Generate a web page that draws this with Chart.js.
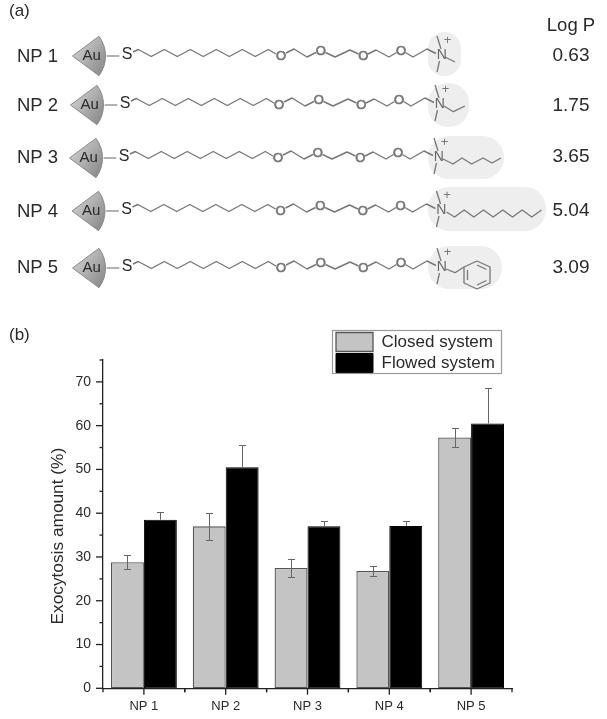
<!DOCTYPE html>
<html><head><meta charset="utf-8">
<style>html,body{margin:0;padding:0;background:#fff}#wrap{width:607px;height:719px;position:relative}canvas{display:block}</style>
<script src="https://cdn.jsdelivr.net/npm/chart.js@4"></script>
</head><body><div id="wrap"><canvas id="c" width="607" height="719"></canvas></div>
<script>
const categories = ['NP 1','NP 2','NP 3','NP 4','NP 5'];
const closedValues = [28.8, 37.0, 27.5, 26.8, 57.3];
const closedErrors = [1.65, 3.1, 2.0, 1.2, 2.2];
const flowedValues = [38.5, 50.5, 37.0, 37.1, 60.5];
const flowedErrors = [1.7, 5.1, 1.15, 1.1, 8.0];
const logP = ['0.63','1.75','3.65','5.04','3.09'];
const yTickStep = 5;
const FONT = '"Liberation Sans", Arial, sans-serif';
const INK = '#2a2a2a', BOND = '#777';

// schematic of the ligands in panel (a)
const rowShift = [[0,0],[-2,49],[-3,102],[-0.5,155],[0,212]];
const rowLabelY = [57,106,158,212,268];
const logPY = [56,106,157,211,268];
const blobs = [[428,461,32,76,16],[428,469,83,127,20],[428,504,136,179,21],[428,546,187,231,21],[428,502,246,289,21]];
const tails = [
  [[445,57],[455,62]],
  [[446,57],[455.3,62.7],[467,57]],
  [[446,57],[456,62],[465,56],[474.7,62],[486,56],[495,61],[504,56]],
  [[447,57],[455,62],[464.7,55],[474.3,62],[484,55],[493.7,62],[503.3,55],[513,62],[522.7,55],[532.3,62],[542,55]],
  [[446,57],[455,60.7],[464,55]]
];
const ring = [[477,49],[490,55],[490,71],[477,77],[464,71],[464,55]];

function poly(ctx, pts){ctx.beginPath();pts.forEach((p,i)=>i?ctx.lineTo(p[0],p[1]):ctx.moveTo(p[0],p[1]));ctx.stroke();}
function txt(ctx,s,x,y,size,color,align){ctx.font=size+'px '+FONT;ctx.fillStyle=color;ctx.textAlign=align||'center';ctx.textBaseline='middle';ctx.fillText(s,x,y);}

function drawDiagram(ctx){
  ctx.save();
  txt(ctx,'(a)',9,11,17,INK,'left');
  txt(ctx,'(b)',9,335,17,INK,'left');
  txt(ctx,'Log P',571,26,18.5,INK);
  categories.forEach((name,r)=>{
    const b=blobs[r];
    ctx.fillStyle='#eeeeee';ctx.beginPath();ctx.roundRect(b[0],b[2],b[1]-b[0],b[3]-b[2],b[4]);ctx.fill();
    txt(ctx,name,17,rowLabelY[r],18.5,INK,'left');
    txt(ctx,logP[r],571,logPY[r],19,INK);
    ctx.save();ctx.translate(rowShift[r][0],rowShift[r][1]);
    // gold core
    const g=ctx.createLinearGradient(72,46,106,68);g.addColorStop(0,'#d2d2d2');g.addColorStop(1,'#8a8a8a');
    ctx.fillStyle=g;ctx.strokeStyle='#8a8a8a';ctx.lineWidth=1;
    ctx.beginPath();ctx.moveTo(72.5,56);ctx.arc(72.5,56,33,-0.64,0.64);ctx.closePath();ctx.fill();ctx.stroke();
    txt(ctx,'Au',91.7,56,15,INK);
    ctx.strokeStyle='#666';ctx.lineWidth=1;poly(ctx,[[106.7,56],[119.3,56]]);
    txt(ctx,'S',127,55,16,INK);
    // alkyl and glycol chain
    ctx.strokeStyle=BOND;ctx.lineWidth=1.4;ctx.lineJoin='round';
    const chain=[[133,52]];
    for(let i=0;i<=10;i++)chain.push([138.3+13*i,i%2?56.5:49.5]);
    chain.push([276,54]);
    poly(ctx,chain);
    poly(ctx,[[286,53],[294,49],[307,57],[316,52.5]]);
    poly(ctx,[[325.5,52.5],[335,57],[350,50],[358.5,54]]);
    poly(ctx,[[368,54],[376,50],[389,57],[396.5,52.5]]);
    poly(ctx,[[405.5,52.5],[413,57],[427,49],[436,53.5]]);
    [[281,56],[320.7,50.7],[363.3,56],[401,50.7]].forEach(o=>{
      ctx.font='13px '+FONT;ctx.fillStyle=BOND;ctx.textAlign='center';ctx.textBaseline='middle';
      ctx.fillText('O',o[0],o[1]+0.5);ctx.lineWidth=0.7;ctx.strokeStyle=BOND;ctx.strokeText('O',o[0],o[1]+0.5);
    });
    ctx.lineWidth=1.3;
    txt(ctx,'N',441.7,55.5,14,'#666');
    txt(ctx,'+',447.5,40.5,13,'#777');
    poly(ctx,[[441,49],[437,36]]);
    poly(ctx,[[439.5,61],[437,72]]);
    poly(ctx,tails[r]);
    if(r===4){
      poly(ctx,ring.concat([ring[0]]));
      poly(ctx,[[477,53],[486.5,57.5]]);
      poly(ctx,[[486.5,68.5],[477,73]]);
      poly(ctx,[[467.5,68],[467.5,58]]);
    }
    ctx.restore();
  });
  ctx.restore();
}

const extras = {
  id:'extras',
  beforeDraw(chart){drawDiagram(chart.ctx);},
  afterLayout(chart){
    const lg=chart.legend;
    lg.left=334;lg.right=500;lg.top=330.5;lg.bottom=400;lg.width=166;lg.height=69.5;
    const y=chart.scales.y;
    if(!y._shifted){
      y._shifted=true;const orig=y.drawTitle.bind(y);
      y.drawTitle=function(){const c=chart.ctx;c.save();c.translate(0,12);orig();c.restore();};
    }
  },
  afterDatasetsDraw(chart){
    const ctx=chart.ctx,ys=chart.scales.y,xs=chart.scales.x;
    ctx.save();
    // error bars
    ctx.strokeStyle='#666';ctx.lineWidth=1;
    [[0,closedValues,closedErrors,true],[1,flowedValues,flowedErrors,false]].forEach(([d,vals,errs,both])=>{
      const meta=chart.getDatasetMeta(d);
      meta.data.forEach((bar,i)=>{
        const x=Math.round(bar.x)+0.5,t=Math.round(ys.getPixelForValue(vals[i]+errs[i]))+0.5;
        const b=both?Math.round(ys.getPixelForValue(vals[i]-errs[i]))+0.5:ys.getPixelForValue(vals[i]);
        ctx.beginPath();ctx.moveTo(x,b);ctx.lineTo(x,t);
        ctx.moveTo(x-3.5,t);ctx.lineTo(x+3.5,t);
        if(both){ctx.moveTo(x-3.5,b);ctx.lineTo(x+3.5,b);}
        ctx.stroke();
      });
    });
    // axis tick marks
    ctx.strokeStyle='#222';ctx.lineWidth=1.3;
    const ax=xs.left,ay=ys.bottom;
    ys.ticks.forEach(t=>{
      const p=ys.getPixelForValue(t.value),len=t.value%10===0?7:3.5;
      ctx.beginPath();ctx.moveTo(ax,p);ctx.lineTo(ax-len,p);ctx.stroke();
    });
    const half=(xs.getPixelForValue(1)-xs.getPixelForValue(0))/2;
    categories.forEach((c,i)=>{
      const p=xs.getPixelForValue(i);
      ctx.beginPath();ctx.moveTo(p,ay);ctx.lineTo(p,ay+6.5);
      ctx.moveTo(p-half,ay);ctx.lineTo(p-half,ay+4);
      ctx.moveTo(p+half,ay);ctx.lineTo(p+half,ay+4);ctx.stroke();
    });
    // legend frame
    ctx.strokeStyle='#9a9a9a';ctx.lineWidth=1.2;ctx.strokeRect(332.5,330.5,169,43);
    ctx.restore();
  }
};

new Chart(document.getElementById('c'),{
  type:'bar',
  data:{labels:categories,datasets:[
    {label:'Closed system',data:closedValues,backgroundColor:'#c4c4c4',borderColor:'#555',borderWidth:1.3,borderSkipped:false,categoryPercentage:0.805,barPercentage:1},
    {label:'Flowed system',data:flowedValues,backgroundColor:'#000',borderColor:'#000',borderWidth:1,borderSkipped:false,categoryPercentage:0.805,barPercentage:1}
  ]},
  plugins:[extras],
  options:{
    responsive:false,animation:false,
    devicePixelRatio:1,
    layout:{padding:{top:360,right:95,bottom:0,left:0}},
    plugins:{
      tooltip:{enabled:false},
      legend:{
        display:true,position:'chartArea',align:'start',reverse:false,
        labels:{boxWidth:37,boxHeight:19,padding:2,color:INK,font:{family:FONT,size:17}}
      }
    },
    scales:{
      x:{
        afterFit(s){s.height=30.7;},
        grid:{display:false},
        border:{display:true,color:'#222',width:1.3},
        ticks:{color:INK,font:{family:FONT,size:13},padding:2,maxRotation:0}
      },
      y:{
        min:0,max:75,
        afterFit(s){s.width=103;},
        grid:{display:false},
        border:{display:true,color:'#222',width:1.3},
        ticks:{stepSize:yTickStep,color:INK,font:{family:FONT,size:14},padding:4,
          callback(v){return v%10===0?String(v):'';}},
        title:{display:true,text:'Exocytosis amount (%)',color:INK,font:{family:FONT,size:17.3},padding:{top:48,bottom:0}}
      }
    }
  }
});
</script></body></html>
